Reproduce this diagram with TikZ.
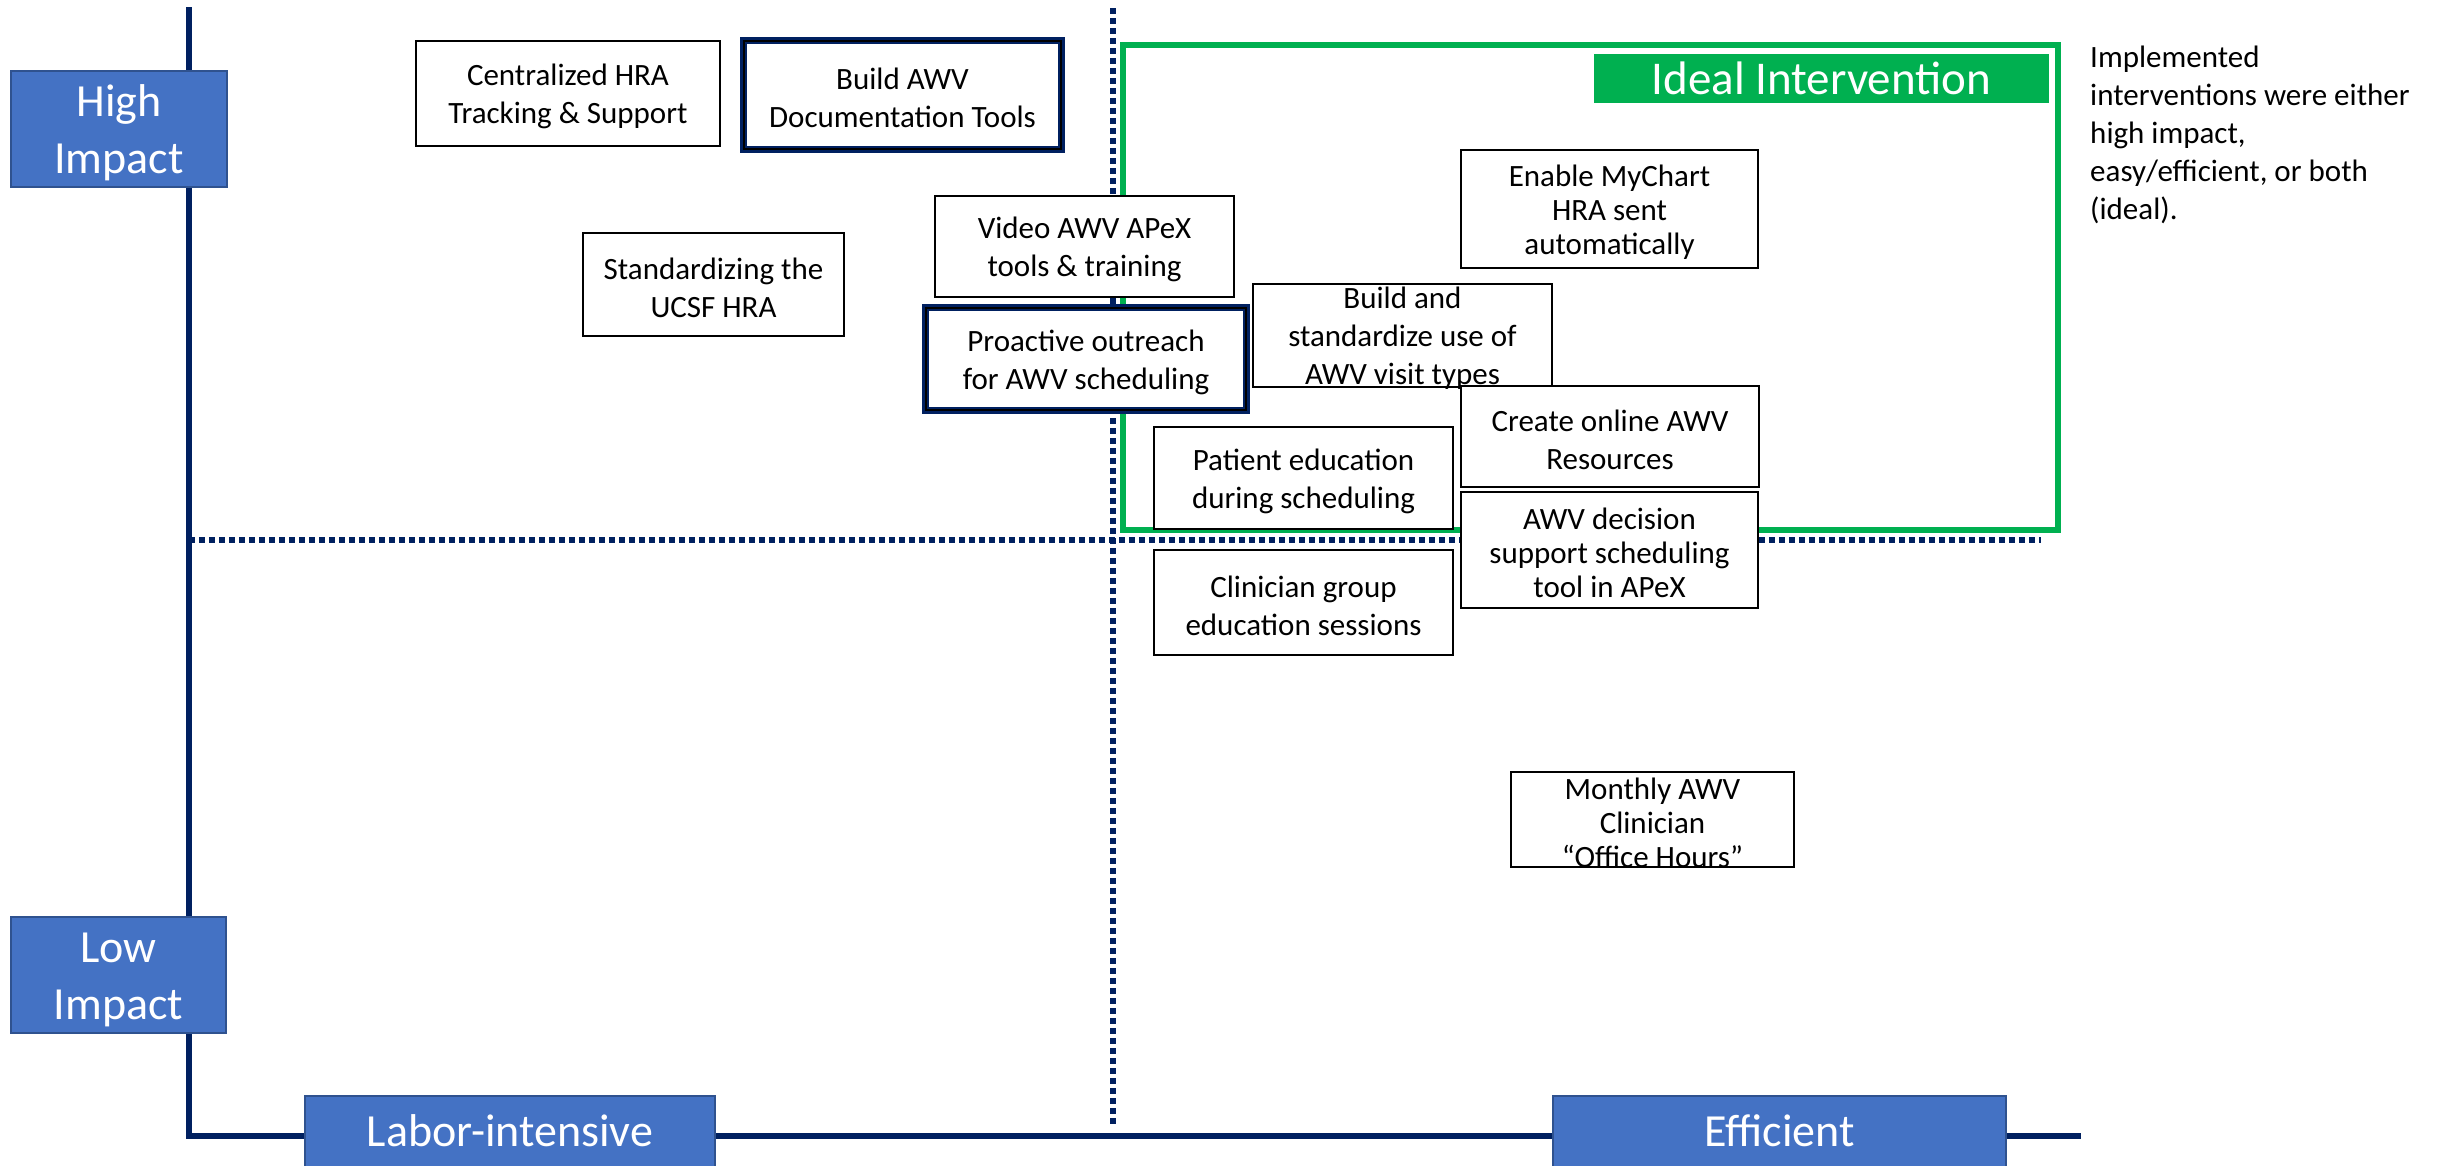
\documentclass[tikz,border=0pt]{standalone}
\usepackage{fontspec}
\setmainfont{Carlito}
\definecolor{navy}{HTML}{002060}
\definecolor{axblue}{HTML}{4472C4}
\definecolor{axedge}{HTML}{2F528F}
\definecolor{ideal}{HTML}{00B050}
\newcommand{\mybox}[8]{%
  \node[#6, minimum width=#4pt, minimum height=#5pt] (#1) at (#2,#3) {};
  \node[#7] (#1t) at ([yshift=-3pt]#1.center) {#8};}
\begin{document}
\begin{tikzpicture}[x=1pt,y=-1pt,
  item/.style={draw=black, line width=2.5pt, fill=white, inner sep=0pt},
  bolditem/.style={item, draw=navy, line width=7pt},
  itext/.style={inner sep=0pt, align=center, font=\fontsize{31}{38}\selectfont},
  itextc/.style={inner sep=0pt, align=center, font=\fontsize{31}{34}\selectfont},
  axbox/.style={draw=axedge, line width=2pt, fill=axblue, inner sep=0pt},
  axtext/.style={text=white, inner sep=0pt, align=center, font=\fontsize{46}{57}\selectfont},
  axisline/.style={navy, line width=6pt},
  dotline/.style={navy, line width=6pt, dash pattern=on 5.5pt off 4.5pt}]
\useasboundingbox (0,0) rectangle (2438,1165);
\fill[white] (0,0) rectangle (2438,1165);
% axes
\coordinate (atop) at (189,7);
\coordinate (aorig) at (189,1136);
\coordinate (aright) at (2081,1136);
\draw[axisline] (atop) -- (aorig) -- (aright);
% dotted quadrant lines
\coordinate (vt) at (1113,8);
\coordinate (vb) at (1113,1128);
\coordinate (hl) at (189,540);
\coordinate (hr) at (2041,540);
\draw[dotline] (vt) -- (vb);
\draw[dotline] (hl) -- (hr);
% ideal region
\draw[ideal, line width=6pt] (1123,45) rectangle (2058,530);
\node[fill=ideal, text=white, inner sep=0pt, minimum width=455pt, minimum height=49pt,
  text height=32pt, text depth=0pt, font=\fontsize{47}{57}\selectfont] (ideallbl) at (1821.5,78.5) {Ideal Intervention};
% axis labels
\node[axbox, minimum width=216pt, minimum height=116pt] (hi) at (119,129) {};
\node[axtext] (hit) at ([yshift=-4pt]hi.center) {High\\Impact};
\node[axbox, minimum width=215pt, minimum height=116pt] (lo) at (118.5,975) {};
\node[axtext] (lot) at ([yshift=-5pt]lo.center) {Low\\Impact};
\node[axbox, minimum width=410pt, minimum height=74pt] (labor) at (510,1133) {};
\node[axtext] (labort) at ([yshift=2pt]labor.center) {Labor-intensive};
\node[axbox, minimum width=453pt, minimum height=74pt] (eff) at (1779.5,1133) {};
\node[axtext] (efft) at ([yshift=2pt]eff.center) {Efficient};
% intervention boxes
\mybox{c1}{568}{93.5}{304}{105}{item}{itext}{Centralized HRA\\Tracking \& Support}
\mybox{c2}{902.5}{95}{318}{109}{bolditem}{itext}{Build AWV\\Documentation Tools}
\draw[black, line width=1.2pt] ([xshift=4pt,yshift=-4pt]c2.north west) rectangle ([xshift=-4pt,yshift=4pt]c2.south east);
\mybox{c3}{713.5}{284.5}{261}{103}{item}{itext}{Standardizing the\\UCSF HRA}
\mybox{c4}{1084.5}{246.5}{299}{101}{item}{itext}{Video AWV APeX\\tools \& training}
\mybox{c5}{1086}{359}{321}{103}{bolditem}{itext}{Proactive outreach\\for AWV scheduling}
\draw[black, line width=1.2pt] ([xshift=4pt,yshift=-4pt]c5.north west) rectangle ([xshift=-4pt,yshift=4pt]c5.south east);
\mybox{c6}{1402.5}{335.5}{299}{103}{item}{itext}{Build and\\standardize use of\\AWV visit types}
\mybox{c7}{1609.5}{209}{297}{118}{item}{itextc}{Enable MyChart\\HRA sent\\automatically}
\mybox{c8}{1610}{436.5}{298}{101}{item}{itext}{Create online AWV\\Resources}
\mybox{c9}{1303.5}{478}{299}{102}{item}{itext}{Patient education\\during scheduling}
\mybox{c10}{1609.5}{550}{297}{116}{item}{itextc}{AWV decision\\support scheduling\\tool in APeX}
\mybox{c11}{1303.5}{602.5}{299}{105}{item}{itext}{Clinician group\\education sessions}
\mybox{c12}{1652.5}{819.5}{283}{95}{item}{itextc}{Monthly AWV\\Clinician\\“Office Hours”}
% note
\node[anchor=north west, align=left, inner sep=0pt, font=\fontsize{31}{38}\selectfont] (note) at (2090,46)
  {Implemented\\interventions were either\\high impact,\\easy/efficient, or both\\(ideal).};
\end{tikzpicture}
\end{document}
